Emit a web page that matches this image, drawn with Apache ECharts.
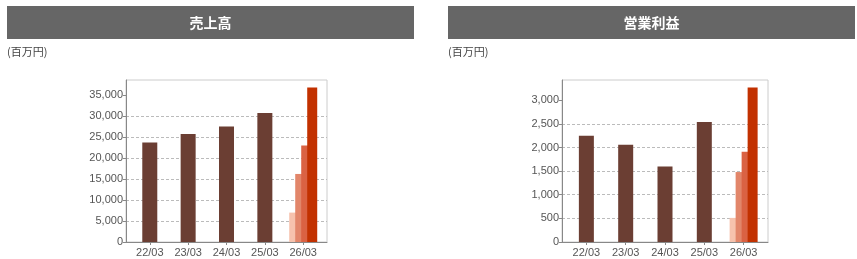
<!DOCTYPE html>
<html>
<head>
<meta charset="utf-8">
<script src="https://cdn.jsdelivr.net/npm/echarts@6/dist/echarts.min.js"></script>
<style>
html,body{margin:0;padding:0;background:#fff;}
#c{width:857px;height:259px;}
</style>
</head>
<body>
<div id="c"></div>
<script>
// ---- data ----
const categories = ['22/03', '23/03', '24/03', '25/03', '26/03'];
const actualCats = ['22/03', '23/03', '24/03', '25/03'];
const forecastCat = '26/03';
const salesActual = [23700, 25700, 27500, 30700];
const salesForecast = [7000, 16200, 23000, 36800];
const profitActual = [2250, 2060, 1600, 2540];
const profitForecast = [510, 1480, 1910, 3270];
const salesTicks = [0, 5000, 10000, 15000, 20000, 25000, 30000, 35000];
const profitTicks = [0, 500, 1000, 1500, 2000, 2500, 3000];
const titles = ['売上高', '営業利益'];
const unitLabel = '(百万円)';

// ---- styles ----
const brown = '#6b3e33';
const forecastColors = ['#f6c2ad', '#e2866a', '#da6243', '#c23100'];
const font = '"Liberation Sans", Arial, sans-serif';
const cjk = '"Noto Sans CJK JP", sans-serif';

const catIdx = c => categories.indexOf(c);
const fmt = v => v.toLocaleString('en-US');

function panel(g, yTicks, yMax, actual, forecast) {
  const xAxes = [
    {
      type: 'value', gridIndex: g, min: -0.62, max: 4.62,
      axisLine: { onZero: false, lineStyle: { color: '#888' } },
      axisTick: { customValues: categories.map((c, i) => i), length: 3, lineStyle: { color: '#888' } },
      axisLabel: {
        customValues: categories.map((c, i) => i),
        formatter: v => categories[Math.round(v)],
        color: '#555', fontSize: 11, fontFamily: font, margin: 5
      },
      splitLine: { show: false }
    },
    {
      type: 'value', gridIndex: g, min: -0.62, max: 4.62, show: false,
      splitLine: { show: false }
    }
  ];
  const yAxis = {
    type: 'value', gridIndex: g, min: 0, max: yMax,
    interval: yTicks[1] - yTicks[0],
    axisLine: { show: true, onZero: false, lineStyle: { color: '#888' } },
    axisTick: { show: true, customValues: yTicks, length: 3, lineStyle: { color: '#888' } },
    axisLabel: {
      customValues: yTicks, formatter: v => fmt(v),
      color: '#555', fontSize: 11, fontFamily: font, margin: 3
    },
    splitLine: { show: true, showMaxLine: false, showMinLine: false, lineStyle: { color: '#bbb', type: [3, 2], width: 1 } }
  };
  const series = [];
  series.push({
    type: 'bar', xAxisIndex: g * 2 + 1, yAxisIndex: g,
    barWidth: 15,
    itemStyle: { color: brown },
    data: actual.map((v, i) => [catIdx(actualCats[i]), v]),
    silent: true
  });
  forecast.forEach((v, k) => {
    series.push({
      type: 'bar', xAxisIndex: g * 2, yAxisIndex: g,
      barWidth: 10, barGap: '-40%',
      itemStyle: { color: forecastColors[k] },
      data: [[catIdx(forecastCat), v]],
      silent: true
    });
  });
  return { xAxes, yAxis, series };
}

const p1 = panel(0, salesTicks, 38570, salesActual, salesForecast);
const p2 = panel(1, profitTicks, 3428, profitActual, profitForecast);

const titleBar = (x, w, text) => ({
  type: 'group', left: x, top: 6,
  children: [
    { type: 'rect', shape: { x: 0, y: 0, width: w, height: 33 }, style: { fill: '#666' } },
    { type: 'text', x: w / 2, y: 17, style: { text: text, fill: '#fff', font: 'bold 14px ' + cjk, align: 'center', verticalAlign: 'middle' } }
  ]
});

const chart = echarts.init(document.getElementById('c'), null, { renderer: 'canvas' });
chart.setOption({
  animation: false,
  backgroundColor: '#fff',
  grid: [
    { left: 126, top: 80, width: 201, height: 162, show: true, borderColor: '#ccc', borderWidth: 1, backgroundColor: 'transparent' },
    { left: 562, top: 80, width: 206, height: 162, show: true, borderColor: '#ccc', borderWidth: 1, backgroundColor: 'transparent' }
  ],
  xAxis: [...p1.xAxes, ...p2.xAxes],
  yAxis: [p1.yAxis, p2.yAxis],
  series: [...p1.series, ...p2.series],
  graphic: [
    titleBar(7, 407, titles[0]),
    titleBar(448, 407, titles[1]),
    { type: 'text', left: 7, top: 46, style: { text: unitLabel, fill: '#444', font: '11px ' + cjk } },
    { type: 'text', left: 448, top: 46, style: { text: unitLabel, fill: '#444', font: '11px ' + cjk } }
  ]
});
</script>
</body>
</html>
